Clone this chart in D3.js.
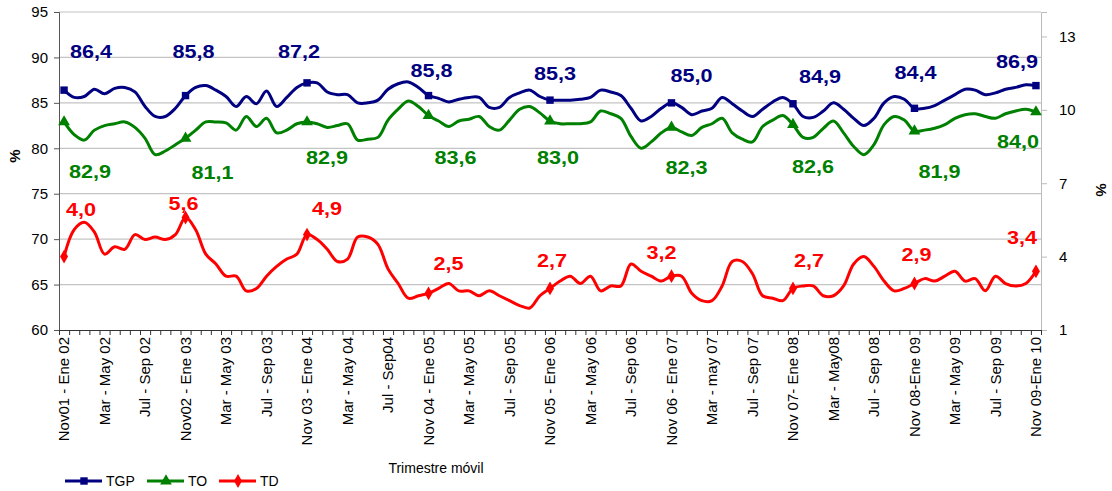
<!DOCTYPE html>
<html>
<head>
<meta charset="utf-8">
<script src="https://cdn.jsdelivr.net/npm/d3@7"></script>
<style>
  body { margin: 0; background: #fff; }
  svg { font-family: "Liberation Sans", Arial, sans-serif; }
</style>
</head>
<body>
<svg id="chart" width="1112" height="491"></svg>
<script>
// Trimestre movil: Nov01-Ene02 ... Nov09-Ene10 (97 rolling quarters)
const tickLabels = ['Nov01 - Ene 02', 'Mar - May 02', 'Jul - Sep 02', 'Nov02 - Ene 03', 'Mar - May 03', 'Jul - Sep 03',
  'Nov 03 - Ene 04', 'Mar - May 04', 'Jul - Sep04', 'Nov 04 - Ene 05', 'Mar - May 05', 'Jul - Sep 05',
  'Nov 05 - Ene 06', 'Mar - May 06', 'Jul - Sep 06', 'Nov 06 - Ene 07', 'Mar - may 07', 'Jul - Sep 07',
  'Nov 07- Ene 08', 'Mar - May08', 'Jul - Sep 08', 'Nov 08-Ene 09', 'Mar - May 09', 'Jul - Sep 09', 'Nov 09-Ene 10'];

const tgp = [86.4,85.6,85.7,86.5,86.0,86.6,86.7,86.2,84.6,83.5,83.5,84.4,85.8,
  86.7,86.9,86.4,85.7,84.6,85.7,84.9,86.3,84.6,85.6,86.7,87.2,
  87.2,86.2,85.9,85.9,85.0,85.0,85.3,86.5,87.1,87.3,86.7,85.8,
  85.5,85.1,85.4,85.6,85.6,84.5,84.5,85.6,86.1,86.4,85.7,85.3,
  85.3,85.3,85.4,85.6,86.4,86.2,85.8,84.4,83.0,83.5,84.4,85.0,
  84.5,83.7,84.1,84.4,85.6,84.9,84.1,83.5,84.3,85.1,85.6,84.9,
  83.5,83.4,84.1,85.0,84.3,83.3,82.5,83.3,85.0,85.7,85.4,84.4,
  84.4,84.7,85.3,85.9,86.5,86.4,85.9,86.1,86.5,86.7,87.0,86.9];

const to = [82.9,81.5,80.9,82.0,82.5,82.7,82.9,82.3,81.1,79.3,79.7,80.4,81.1,
  82.0,82.9,82.9,82.8,82.0,83.5,82.4,83.3,81.7,82.0,82.7,82.9,
  82.7,82.3,82.5,82.7,80.9,81.0,81.2,83.1,84.3,85.2,84.6,83.6,
  83.0,82.4,83.0,83.2,83.5,82.4,82.0,83.1,84.3,84.6,83.9,83.0,
  82.7,82.7,82.7,82.9,84.1,83.8,83.3,81.3,80.0,80.7,81.7,82.3,
  81.8,81.4,82.3,82.7,83.3,81.7,81.0,80.7,82.4,83.1,83.6,82.6,
  81.2,81.2,82.2,83.0,81.7,80.2,79.3,80.4,82.6,83.5,83.1,81.9,
  82.0,82.2,82.6,83.3,83.7,83.8,83.5,83.3,83.8,84.1,84.3,84.0];

const td = [4.0,5.1,5.4,5.0,4.1,4.4,4.3,4.9,4.7,4.8,4.7,4.9,5.6,
  5.1,4.1,3.7,3.2,3.2,2.6,2.7,3.2,3.6,3.9,4.1,4.9,
  4.7,4.3,3.8,3.9,4.8,4.8,4.5,3.5,2.9,2.3,2.4,2.5,
  2.7,2.9,2.6,2.6,2.4,2.6,2.4,2.2,2.0,1.9,2.4,2.7,
  3.0,3.2,2.9,3.2,2.6,2.8,2.8,3.7,3.4,3.2,3.0,3.2,
  3.2,2.5,2.2,2.2,2.8,3.8,3.8,3.3,2.4,2.3,2.2,2.7,
  2.8,2.8,2.4,2.4,2.8,3.7,4.0,3.6,3.0,2.6,2.7,2.9,
  3.1,3.0,3.2,3.4,3.0,3.1,2.6,3.2,2.9,2.8,2.9,3.4];

const leftTicks = [60, 65, 70, 75, 80, 85, 90, 95];
const rightTicks = [1, 4, 7, 10, 13];

// label nudges (px) for the yearly data labels, relative to the marker
const tgpLabelNudge = [[27,-38],[8,-44],[-8,-31],[3,-25],[5,-26],[20,-27],[27,-27],[1,-36],[-19,-24]];
const toLabelNudge = [[26,50],[27,34],[20,36],[27,42],[8,37],[15,40],[20,42],[25,41],[-18,30]];
const tdLabelNudge = [[17,-47],[-2,-14],[20,-26],[20,-30],[2,-28],[-10,-24],[16,-28],[2,-29],[-14,-34]];

const svg = d3.select('#chart');
const plotLeft = 59, plotRight = 1041, plotTop = 12, plotBottom = 330;
const n = tgp.length;

const x = d3.scalePoint().domain(d3.range(n)).range([plotLeft, plotRight]).padding(0.5);
const xEdge = d3.scaleLinear().domain([0, n]).range([plotLeft, plotRight]);
const yL = d3.scaleLinear().domain([60, 95]).range([plotBottom, plotTop]);
const yR = d3.scaleLinear().domain([1, 14]).range([plotBottom, plotTop]);

// gridlines
svg.append('g').selectAll('line')
  .data(leftTicks.filter(d => d > 60))
  .enter().append('line')
  .attr('x1', plotLeft).attr('x2', plotRight)
  .attr('y1', d => yL(d)).attr('y2', d => yL(d))
  .attr('stroke', '#c4c4c4').attr('stroke-width', 1.2);

// left axis
const gL = svg.append('g')
  .attr('transform', `translate(${plotLeft},0)`)
  .call(d3.axisLeft(yL).tickValues(leftTicks).tickSize(5).tickPadding(6));
gL.selectAll('text').attr('font-size', 15).attr('fill', '#000');
gL.selectAll('line, path').attr('stroke', '#555');

// right axis
const gR = svg.append('g')
  .attr('transform', `translate(${plotRight},0)`)
  .call(d3.axisRight(yR).tickValues(rightTicks).tickSize(6).tickPadding(12));
gR.selectAll('text').attr('font-size', 15).attr('fill', '#000');
gR.selectAll('line, path').attr('stroke', '#bbb');

// bottom axis with a tick at every category boundary
const gB = svg.append('g')
  .attr('transform', `translate(0,${plotBottom})`)
  .call(d3.axisBottom(xEdge).tickValues(d3.range(n + 1)).tickSize(5).tickFormat(''));
gB.selectAll('line, path').attr('stroke', '#333');

svg.append('g').selectAll('text')
  .data(tickLabels)
  .enter().append('text')
  .attr('transform', (d, i) => `translate(${x(i * 4)},${plotBottom + 7}) rotate(-90)`)
  .attr('text-anchor', 'end')
  .attr('dy', '0.35em')
  .attr('font-size', 15)
  .text(d => d);

// axis titles
svg.append('text')
  .attr('transform', 'translate(20,156) rotate(-90)')
  .attr('text-anchor', 'middle')
  .attr('font-size', 15).attr('font-weight', 'bold')
  .text('%');
svg.append('text')
  .attr('transform', 'translate(1096,190) rotate(90)')
  .attr('text-anchor', 'middle')
  .attr('font-size', 15).attr('font-weight', 'bold')
  .text('%');
svg.append('text')
  .attr('x', 436).attr('y', 473)
  .attr('text-anchor', 'middle')
  .attr('font-size', 14)
  .text('Trimestre móvil');

const series = [
  {name: 'TGP', values: tgp, y: yL, color: '#000080', symbol: d3.symbolSquare, size: 55, nudge: tgpLabelNudge},
  {name: 'TO', values: to, y: yL, color: '#008000', symbol: d3.symbolTriangle, size: 60, nudge: toLabelNudge},
  {name: 'TD', values: td, y: yR, color: '#ff0000', symbol: d3.symbolDiamond, size: 55, nudge: tdLabelNudge},
];

const fmt = v => d3.format('.1f')(v).replace('.', ',');

series.forEach(s => {
  const line = d3.line()
    .x((d, i) => x(i))
    .y(d => s.y(d))
    .curve(d3.curveCatmullRom.alpha(0.5));

  svg.append('path')
    .attr('d', line(s.values))
    .attr('fill', 'none')
    .attr('stroke', s.color)
    .attr('stroke-width', 3)
    .attr('stroke-linejoin', 'round');

  const marked = d3.range(0, n, 12);

  svg.append('g').selectAll('path')
    .data(marked)
    .enter().append('path')
    .attr('transform', i => `translate(${x(i)},${s.y(s.values[i])})`)
    .attr('d', d3.symbol().type(s.symbol).size(s.size))
    .attr('fill', s.color);

  svg.append('g').selectAll('text')
    .data(marked)
    .enter().append('text')
    .attr('transform', (i, k) => `translate(${x(i) + s.nudge[k][0]},${s.y(s.values[i]) + s.nudge[k][1]}) scale(1.2,1)`)
    .attr('text-anchor', 'middle')
    .attr('dominant-baseline', 'central')
    .attr('font-size', 18)
    .attr('font-weight', 'bold')
    .attr('fill', s.color)
    .text(i => fmt(s.values[i]));
});

// legend
const legend = svg.append('g').attr('transform', 'translate(65,481)');
const item = legend.selectAll('g')
  .data(series)
  .enter().append('g')
  .attr('transform', (d, i) => `translate(${[0, 82, 154][i]},0)`);
item.append('line')
  .attr('x1', 0).attr('x2', 37)
  .attr('stroke', d => d.color).attr('stroke-width', 3);
item.append('path')
  .attr('transform', 'translate(19,0)')
  .attr('d', d => d3.symbol().type(d.symbol).size(d.size)())
  .attr('fill', d => d.color);
item.append('text')
  .attr('x', 41).attr('dy', '0.35em')
  .attr('font-size', 14)
  .text(d => d.name);
</script>
</body>
</html>
